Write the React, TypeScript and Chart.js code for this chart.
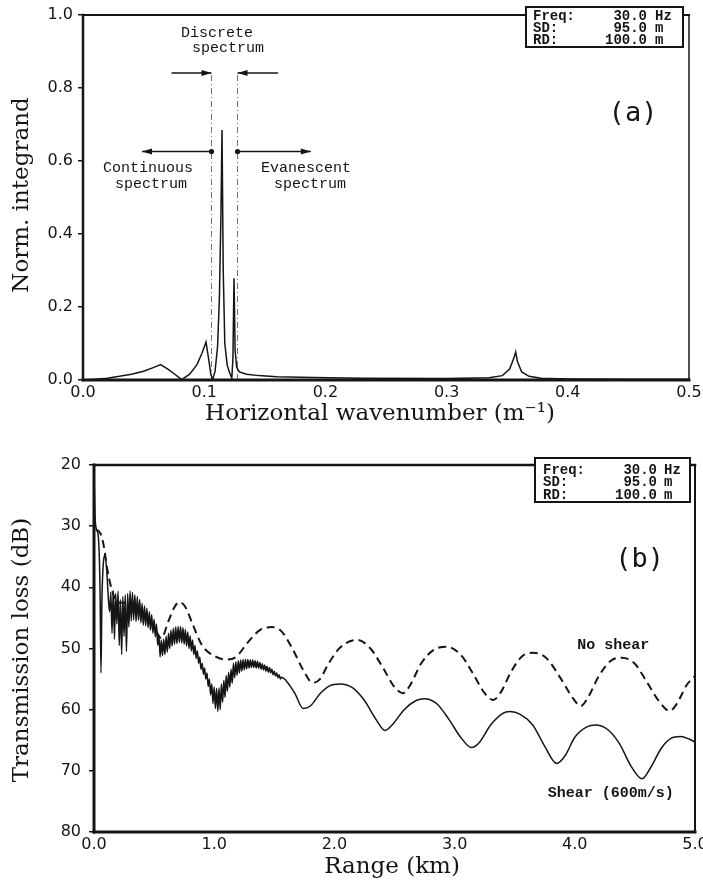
import React, { useEffect, useRef } from "react";
import { Chart, registerables } from "chart.js";

Chart.register(...registerables);

// ---------------- Panel (a): normalized integrand vs horizontal wavenumber ----------------
const wavenumberA = [
  0, 0.01, 0.02, 0.03, 0.04, 0.05, 0.058, 0.064, 0.07, 0.076, 0.0815, 0.088, 0.094, 0.098, 0.1015, 0.104,
  0.1055, 0.107, 0.109, 0.111, 0.1125, 0.1138, 0.1147, 0.1157, 0.117, 0.119, 0.121, 0.1228, 0.1237, 0.1246,
  0.1255, 0.1268, 0.129, 0.135, 0.145, 0.16, 0.19, 0.23, 0.3, 0.335, 0.346, 0.352, 0.3555, 0.357, 0.3585,
  0.362, 0.368, 0.378, 0.4, 0.45, 0.5,
];
const integrandA = [
  0, 0.002, 0.005, 0.01, 0.016, 0.024, 0.034, 0.042, 0.03, 0.015, 0.001, 0.016, 0.042, 0.072, 0.104, 0.05,
  0.015, 0.001, 0.025, 0.09, 0.22, 0.45, 0.685, 0.3, 0.1, 0.04, 0.02, 0.005, 0.06, 0.279,
  0.08, 0.035, 0.022, 0.016, 0.012, 0.009, 0.007, 0.005, 0.004, 0.006, 0.012, 0.03, 0.06, 0.077, 0.05,
  0.022, 0.01, 0.005, 0.003, 0.002, 0.002,
];
const xTicksA = [0, 0.1, 0.2, 0.3, 0.4, 0.5];
const yTicksA = [0, 0.2, 0.4, 0.6, 0.8, 1.0];
const discreteBounds = [0.106, 0.1275];
const discreteBoundTop = 0.84;

// ---------------- Panel (b): transmission loss vs range ----------------
const noShearRange = [
  0.017, 0.04, 0.06, 0.083, 0.11, 0.15, 0.2, 0.3, 0.4, 0.5, 0.56, 0.62, 0.67, 0.71, 0.76, 0.82, 0.9, 1.0,
  1.1, 1.18, 1.28, 1.38, 1.48, 1.56, 1.65, 1.74, 1.82, 1.88, 1.95, 2.05, 2.19, 2.3, 2.4, 2.5, 2.57, 2.63,
  2.72, 2.82, 2.93, 3.05, 3.15, 3.25, 3.32, 3.38, 3.47, 3.56, 3.65, 3.76, 3.88, 3.98, 4.05, 4.11, 4.2, 4.3,
  4.39, 4.5, 4.6, 4.7, 4.79, 4.85, 4.93, 5.0,
];
const noShearTL = [
  30.6, 30.8, 31.5, 33.4, 37, 40.5, 42.5, 42.5, 44, 46.5, 48.3, 45.5, 43.2, 42.4, 43.2, 46, 49.5, 51.2,
  51.8, 51.4, 49, 47, 46.5, 47.2, 50, 53.5, 55.6, 55, 52.5, 49.8, 48.6, 50, 53, 56.3, 57.3, 56,
  52.5, 50.3, 49.7, 51, 54, 57.3, 58.4, 57.3, 53.8, 51.3, 50.7, 51.5, 54.8, 58, 59.4, 58, 54.5, 52,
  51.5, 52.5, 55.5, 58.6, 60.2, 59, 56, 54.5,
];

const shearEarlyRange = [0, 0.008, 0.02, 0.035, 0.05, 0.058, 0.066, 0.078, 0.09, 0.105, 0.12, 0.13];
const shearEarlyTL = [21, 28, 30.5, 31.5, 40, 54, 42, 36, 34.7, 37, 42, 44];

// fine-sampled (every 0.01 km from 0.14 km) readings of the rapidly oscillating near-field part
const shearFineStart = 0.14;
const shearFineStep = 0.01;
const shearFineTL = [
  40.8, 47.5, 40.5, 48.5, 41.0, 46.0, 40.6, 49.5, 42.0, 51.0,
  41.5, 48.0, 41.2, 50.5, 41.0, 46.5, 40.6, 45.5, 40.8, 45.3,
  41.2, 45.6, 41.5, 45.4, 42.0, 45.8, 42.6, 46.2, 43.0, 46.3,
  43.4, 46.6, 44.0, 47.0, 44.5, 47.5, 45.2, 48.1, 46.0, 49.5,
  47.8, 51.4, 48.6, 51.2, 48.5, 51.0, 48.0, 50.6, 47.5, 50.0,
  47.0, 49.6, 46.7, 49.3, 46.5, 49.2, 46.4, 49.0, 46.4, 49.1,
  46.6, 49.3, 46.9, 49.6, 47.3, 50.0, 47.9, 50.4, 48.6, 51.0,
  49.5, 51.6, 50.4, 52.4, 51.4, 53.4, 52.4, 54.2, 53.2, 55.0,
  54.0, 56.2, 55.0, 57.6, 55.8, 59.0, 56.3, 59.8, 56.5, 60.3,
  56.4, 60.0, 55.8, 58.8, 55.2, 58.0, 54.4, 57.0, 53.9, 56.3,
  53.4, 55.7,
  52.4, 54.8, 52.2, 54.4, 52.0, 54.0, 51.9, 53.7, 51.8, 53.5,
  51.8, 53.3, 51.8, 53.2, 51.9, 53.1, 51.9, 53.1, 52.0, 53.2,
  52.1, 53.2, 52.3, 53.4, 52.5, 53.5, 52.7, 53.7, 52.9, 53.9,
  53.1, 54.0, 53.4, 54.3, 53.7, 54.5, 54.0, 54.8, 54.3, 55.0,
  54.7,
];

const shearLateRange = [
  1.6, 1.67, 1.74, 1.8, 1.88, 1.96, 2.05, 2.15, 2.25, 2.35, 2.42, 2.48, 2.58, 2.68, 2.75, 2.85, 2.95, 3.05,
  3.14, 3.2, 3.3, 3.4, 3.46, 3.55, 3.65, 3.75, 3.85, 3.92, 4.0, 4.1, 4.17, 4.27, 4.37, 4.47, 4.56, 4.63,
  4.72, 4.8, 4.88, 4.95, 5.0,
];
const shearLateTL = [
  55.3, 57.3, 59.8, 59.4, 57.4, 56.1, 55.8, 56.4, 58.5, 61.7, 63.4, 62.5, 60, 58.5, 58.2, 59, 61.5, 64.5,
  66.2, 65.5, 62.5, 60.6, 60.3, 60.8, 62.5, 66, 68.8, 67.5, 64.5, 62.8, 62.5, 63.2, 65.5, 69.3, 71.3, 69.5,
  66.3, 64.7, 64.4, 64.8, 65.3,
];
const xTicksB = [0, 1, 2, 3, 4, 5];
const yTicksB = [20, 30, 40, 50, 60, 70, 80];

const infoLabels = ["Freq:", "SD:", "RD:"];
const infoValues = ["30.0", "95.0", "100.0"];
const infoUnits = ["Hz", "m", "m"];

// ---------------- drawing helpers ----------------
const INK = "#151515";
const TICK_FONT = { family: "DejaVu Sans", size: 16 };
const TITLE_FONT = '23px "DejaVu Serif"';
const MONO = '"Liberation Mono", "DejaVu Sans Mono", monospace';

function framePlugin(w: { left: number; bottom: number; top: number; right: number }) {
  return {
    id: "frame",
    afterDatasetsDraw(chart: any) {
      const { ctx, chartArea: a } = chart;
      ctx.save();
      ctx.strokeStyle = INK;
      ctx.lineCap = "square";
      const seg = (lw: number, x1: number, y1: number, x2: number, y2: number) => {
        ctx.lineWidth = lw;
        ctx.beginPath();
        ctx.moveTo(x1, y1);
        ctx.lineTo(x2, y2);
        ctx.stroke();
      };
      seg(w.top, a.left, a.top, a.right, a.top);
      seg(w.right, a.right, a.top, a.right, a.bottom);
      seg(w.bottom, a.left, a.bottom, a.right, a.bottom);
      seg(w.left, a.left, a.top, a.left, a.bottom);
      ctx.restore();
    },
  };
}

function drawInfoBox(
  ctx: CanvasRenderingContext2D,
  box: { l: number; t: number; r: number; b: number; labelX: number; valueR: number; unitX: number; rowY: number; rowH: number }
) {
  ctx.save();
  ctx.fillStyle = "#fff";
  ctx.fillRect(box.l, box.t, box.r - box.l, box.b - box.t);
  ctx.strokeStyle = INK;
  ctx.lineWidth = 2;
  ctx.strokeRect(box.l, box.t, box.r - box.l, box.b - box.t);
  ctx.fillStyle = INK;
  ctx.font = `bold 14px ${MONO}`;
  ctx.textBaseline = "middle";
  infoLabels.forEach((lab, i) => {
    const y = box.rowY + i * box.rowH;
    ctx.textAlign = "left";
    ctx.fillText(lab, box.labelX, y);
    ctx.textAlign = "right";
    ctx.fillText(infoValues[i], box.valueR, y);
    ctx.textAlign = "left";
    ctx.fillText(infoUnits[i], box.unitX, y);
  });
  ctx.restore();
}

function drawArrow(ctx: CanvasRenderingContext2D, x1: number, x2: number, y: number, dotStart: boolean) {
  ctx.save();
  ctx.strokeStyle = INK;
  ctx.fillStyle = INK;
  ctx.lineWidth = 1.6;
  ctx.beginPath();
  ctx.moveTo(x1, y);
  ctx.lineTo(x2, y);
  ctx.stroke();
  const dir = Math.sign(x2 - x1);
  ctx.beginPath();
  ctx.moveTo(x2, y);
  ctx.lineTo(x2 - dir * 10, y - 3);
  ctx.lineTo(x2 - dir * 10, y + 3);
  ctx.closePath();
  ctx.fill();
  if (dotStart) {
    ctx.beginPath();
    ctx.arc(x1, y, 2.6, 0, Math.PI * 2);
    ctx.fill();
  }
  ctx.restore();
}

function drawText(ctx: CanvasRenderingContext2D, text: string, x: number, y: number, font: string, rot = 0) {
  ctx.save();
  ctx.fillStyle = INK;
  ctx.font = font;
  ctx.textAlign = "center";
  ctx.textBaseline = "middle";
  ctx.translate(x, y);
  if (rot) ctx.rotate(rot);
  ctx.fillText(text, 0, 0);
  ctx.restore();
}

const annotPluginA = {
  id: "annotA",
  afterDraw(chart: any) {
    const { ctx, scales } = chart;
    const px = (v: number) => scales.x.getPixelForValue(v);
    const py = (v: number) => scales.y.getPixelForValue(v);
    const f15 = `15px ${MONO}`;
    drawArrow(ctx, px(0.073), px(discreteBounds[0]), py(0.841), false);
    drawArrow(ctx, px(0.161), px(discreteBounds[1]), py(0.841), false);
    drawArrow(ctx, px(discreteBounds[0]), px(0.0487), py(0.626), true);
    drawArrow(ctx, px(discreteBounds[1]), px(0.188), py(0.626), true);
    drawText(ctx, "Discrete", px(0.1106), py(0.951), f15);
    drawText(ctx, "spectrum", px(0.1196), py(0.909), f15);
    drawText(ctx, "Continuous", px(0.0536), py(0.58), f15);
    drawText(ctx, "spectrum", px(0.0561), py(0.536), f15);
    drawText(ctx, "Evanescent", px(0.184), py(0.58), f15);
    drawText(ctx, "spectrum", px(0.1873), py(0.536), f15);
    drawText(ctx, "(a)", px(0.4538), py(0.729), `27px "DejaVu Sans Mono"`);
    drawInfoBox(ctx, { l: 526, t: 7, r: 683, b: 47, labelX: 533, valueR: 647, unitX: 655, rowY: 16, rowH: 12 });
    drawText(ctx, "Horizontal wavenumber (m\u207B\u00B9)", 380, 414, TITLE_FONT);
    drawText(ctx, "Norm. integrand", 22, 195, TITLE_FONT, -Math.PI / 2);
  },
};

const annotPluginB = {
  id: "annotB",
  afterDraw(chart: any) {
    const { ctx, scales } = chart;
    const px = (v: number) => scales.x.getPixelForValue(v);
    const py = (v: number) => scales.y.getPixelForValue(v);
    const f16 = `bold 15px ${MONO}`;
    drawText(ctx, "No shear", px(4.32), py(49.4), f16);
    drawText(ctx, "Shear (600m/s)", px(4.3), py(73.6), f16);
    drawText(ctx, "(b)", px(4.54), py(35.5), `27px "DejaVu Sans Mono"`);
    drawInfoBox(ctx, { l: 535, t: 18, r: 690, b: 62, labelX: 543, valueR: 657, unitX: 664, rowY: 30, rowH: 12.5 });
    drawText(ctx, "Range (km)", 392, 427, TITLE_FONT);
    drawText(ctx, "Transmission loss (dB)", 22, 210, TITLE_FONT, -Math.PI / 2);
  },
};

function pts(xs: number[], ys: number[]) {
  return xs.map((x, i) => ({ x, y: ys[i] }));
}

function buildShear() {
  const fine = shearFineTL.map((v, i) => ({ x: +(shearFineStart + i * shearFineStep).toFixed(3), y: v }));
  return [...pts(shearEarlyRange, shearEarlyTL), ...fine, ...pts(shearLateRange, shearLateTL)];
}

function configA(): any {
  return {
    type: "line",
    data: {
      datasets: [
        { data: pts(wavenumberA, integrandA), borderColor: INK, borderWidth: 1.5, pointRadius: 0, tension: 0 },
        ...discreteBounds.map((k) => ({
          data: [{ x: k, y: 0 }, { x: k, y: discreteBoundTop }],
          borderColor: "#707070",
          borderWidth: 1,
          borderDash: [6, 3, 1, 3],
          pointRadius: 0,
        })),
      ],
    },
    options: {
      responsive: false,
      animation: false,
      devicePixelRatio: 1,
      layout: { padding: { left: 0, top: 15, right: 14, bottom: 0 } },
      plugins: { legend: { display: false }, tooltip: { enabled: false } },
      scales: {
        x: {
          type: "linear",
          min: 0,
          max: 0.5,
          afterBuildTicks: (s: any) => { s.ticks = xTicksA.map((v) => ({ value: v })); },
          ticks: { callback: (v: any) => Number(v).toFixed(1), font: TICK_FONT, color: INK, padding: 3, maxRotation: 0, autoSkip: false },
          grid: { display: false, drawTicks: false },
          border: { display: false },
          afterFit: (s: any) => { s.height = 60; s.paddingLeft = 0; s.paddingRight = 0; },
        },
        y: {
          min: 0,
          max: 1,
          afterBuildTicks: (s: any) => { s.ticks = yTicksA.map((v) => ({ value: v })); },
          ticks: { callback: (v: any) => Number(v).toFixed(1), font: TICK_FONT, color: INK, padding: 5 },
          grid: { display: true, drawOnChartArea: false, drawTicks: true, tickLength: 5, color: INK, lineWidth: 1.5 },
          border: { display: false },
          afterFit: (s: any) => { s.width = 83; s.paddingTop = 0; s.paddingBottom = 0; },
        },
      },
    },
    plugins: [framePlugin({ left: 2.5, bottom: 3, top: 2.2, right: 1.5 }), annotPluginA],
  };
}

function configB(): any {
  return {
    type: "line",
    data: {
      datasets: [
        {
          data: pts(noShearRange, noShearTL),
          borderColor: INK,
          borderWidth: 2,
          borderDash: [8, 5],
          pointRadius: 0,
          cubicInterpolationMode: "monotone",
        },
        {
          data: buildShear(),
          borderColor: INK,
          borderWidth: 1.5,
          pointRadius: 0,
          cubicInterpolationMode: "monotone",
        },
      ],
    },
    options: {
      responsive: false,
      animation: false,
      devicePixelRatio: 1,
      layout: { padding: { left: 0, top: 25, right: 8, bottom: 0 } },
      plugins: { legend: { display: false }, tooltip: { enabled: false } },
      scales: {
        x: {
          type: "linear",
          min: 0,
          max: 5,
          afterBuildTicks: (s: any) => { s.ticks = xTicksB.map((v) => ({ value: v })); },
          ticks: { callback: (v: any) => Number(v).toFixed(1), font: TICK_FONT, color: INK, padding: 3, maxRotation: 0, autoSkip: false },
          grid: { display: false, drawTicks: false },
          border: { display: false },
          afterFit: (s: any) => { s.height = 53; s.paddingLeft = 0; s.paddingRight = 0; },
        },
        y: {
          min: 20,
          max: 80,
          reverse: true,
          afterBuildTicks: (s: any) => { s.ticks = yTicksB.map((v) => ({ value: v })); },
          ticks: { callback: (v: any) => String(v), font: TICK_FONT, color: INK, padding: 8 },
          grid: { display: true, drawOnChartArea: false, drawTicks: true, tickLength: 5, color: INK, lineWidth: 1.5 },
          border: { display: false },
          afterFit: (s: any) => { s.width = 94; s.paddingTop = 0; s.paddingBottom = 0; },
        },
      },
    },
    plugins: [framePlugin({ left: 3, bottom: 3, top: 2.5, right: 2 }), annotPluginB],
  };
}

export default function App() {
  const refA = useRef<HTMLCanvasElement | null>(null);
  const refB = useRef<HTMLCanvasElement | null>(null);

  useEffect(() => {
    const a = new Chart(refA.current as HTMLCanvasElement, configA());
    const b = new Chart(refB.current as HTMLCanvasElement, configB());
    return () => {
      a.destroy();
      b.destroy();
    };
  }, []);

  return (
    <div style={{ position: "absolute", left: 0, top: 0, width: 703, height: 885, background: "#fff", overflow: "hidden" }}>
      <canvas ref={refA} width={703} height={440} style={{ position: "absolute", left: 0, top: 0, width: 703, height: 440 }} />
      <canvas ref={refB} width={703} height={445} style={{ position: "absolute", left: 0, top: 440, width: 703, height: 445 }} />
    </div>
  );
}
